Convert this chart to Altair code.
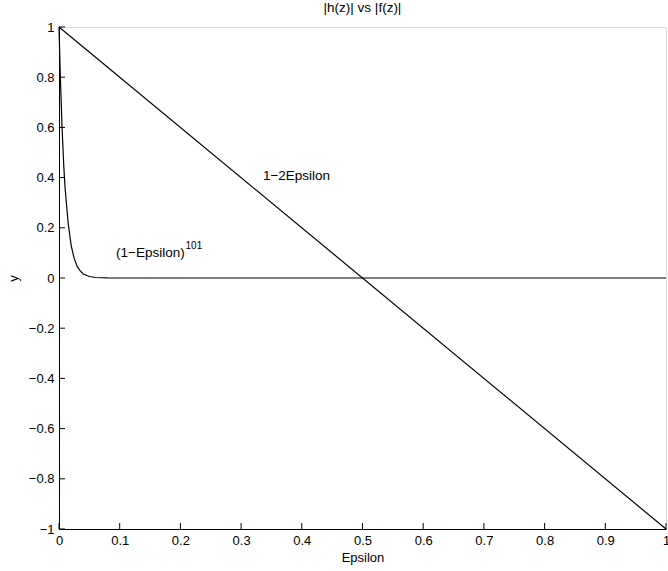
import altair as alt
import pandas as pd

# straight line 1-2*Epsilon (read endpoints)
line_x = [0.0, 1.0]
line_y = [1.0, -1.0]

# curve (1-Epsilon)^101
curve_x = [0.0, 0.002, 0.005, 0.008, 0.01, 0.015, 0.02, 0.025, 0.03, 0.035, 0.04, 0.05, 0.06, 0.08, 0.1, 0.2, 0.5, 1.0]
curve_y = [1.0, 0.82, 0.60, 0.44, 0.36, 0.22, 0.13, 0.078, 0.046, 0.028, 0.016, 0.006, 0.002, 0.0003, 0.0, 0.0, 0.0, 0.0]

x_ticks = [0, 0.1, 0.2, 0.3, 0.4, 0.5, 0.6, 0.7, 0.8, 0.9, 1]
y_ticks = [-1, -0.8, -0.6, -0.4, -0.2, 0, 0.2, 0.4, 0.6, 0.8, 1]

FONT = "Liberation Sans"

df_line = pd.DataFrame({"x": line_x, "y": line_y, "s": "1-2Epsilon"})
df_curve = pd.DataFrame({"x": curve_x, "y": curve_y, "s": "curve"})
df = pd.concat([df_line, df_curve])

xs = alt.Scale(domain=[0, 1], nice=False, zero=False)
ys = alt.Scale(domain=[-1, 1], nice=False, zero=False)

xax = alt.Axis(values=x_ticks, format="~g", tickSize=0, domainColor="black", labelColor="black",
               labelFont=FONT, labelFontSize=13, labelPadding=5, grid=False,
               title="Epsilon", titleFont=FONT, titleFontSize=13, titleFontWeight="normal",
               titleColor="black", titlePadding=4, labelFlush=False)
yax = alt.Axis(values=y_ticks, format="~g", tickSize=0, domainColor="black", labelColor="black",
               labelFont=FONT, labelFontSize=13, labelPadding=5, grid=False,
               title="y", titleFont=FONT, titleFontSize=13, titleFontWeight="normal",
               titleColor="black", titlePadding=8, labelFlush=False)

lines = alt.Chart(df).mark_line(color="black", strokeWidth=1.2).encode(
    x=alt.X("x:Q", scale=xs, axis=xax),
    y=alt.Y("y:Q", scale=ys, axis=yax),
    detail="s:N",
)

xt = pd.DataFrame({"x": x_ticks})
yt = pd.DataFrame({"y": y_ticks})
xtick = alt.Chart(xt).mark_rule(color="black", strokeWidth=1).encode(
    x=alt.X("x:Q", scale=xs), y=alt.value(502), y2=alt.value(496))
ytick = alt.Chart(yt).mark_rule(color="black", strokeWidth=1).encode(
    y=alt.Y("y:Q", scale=ys), x=alt.value(0), x2=alt.value(6))

ann = pd.DataFrame({"x": [0.336, 0.094], "y": [0.405, 0.098],
                    "t": ["1\u22122Epsilon", "(1\u2212Epsilon)"]})
ann_text = alt.Chart(ann).mark_text(align="left", baseline="middle", font=FONT,
                                    fontSize=13.5, color="black").encode(
    x=alt.X("x:Q", scale=xs), y=alt.Y("y:Q", scale=ys), text="t:N")

sup = pd.DataFrame({"x": [0.2085], "y": [0.128], "t": ["101"]})
sup_text = alt.Chart(sup).mark_text(align="left", baseline="middle", font=FONT,
                                    fontSize=10, color="black").encode(
    x=alt.X("x:Q", scale=xs), y=alt.Y("y:Q", scale=ys), text="t:N")

chart = alt.layer(lines, xtick, ytick, ann_text, sup_text).properties(
    width=607, height=502,
    title=alt.TitleParams("|h(z)| vs |f(z)|", font=FONT, fontSize=13.5,
                          fontWeight="normal", color="black", offset=7),
    autosize=alt.AutoSizeParams(type="none"),
    padding={"left": 59, "top": 27, "right": 2, "bottom": 42},
).configure_view(stroke=None).configure(background="white")

chart.save("out.html", embed_options={"renderer": "svg", "actions": False})
